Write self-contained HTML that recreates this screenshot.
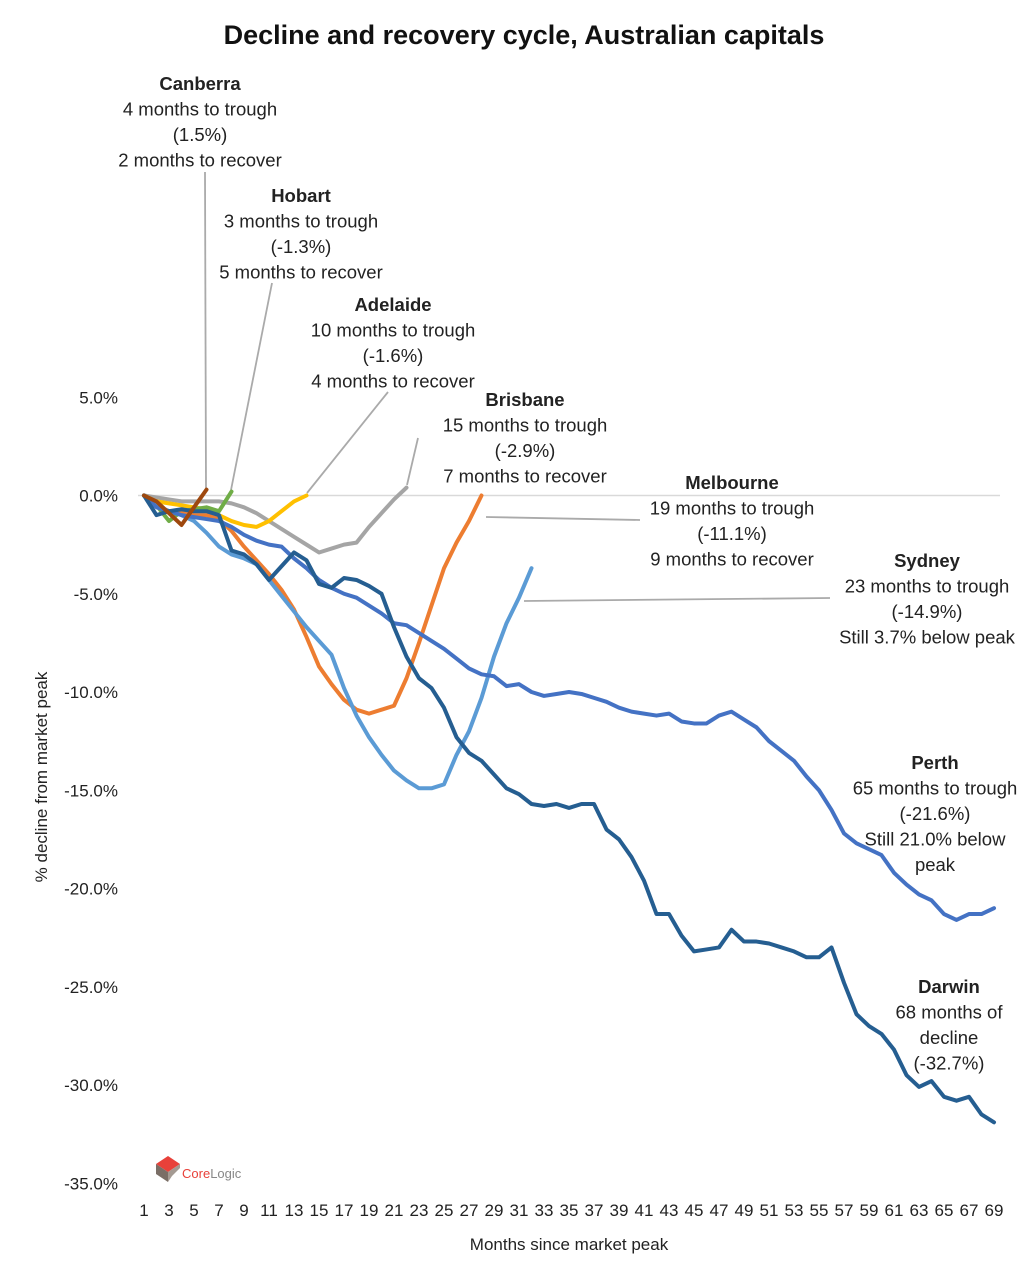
<!DOCTYPE html>
<html><head><meta charset="utf-8"><style>
body{margin:0;background:#fff;}
svg{display:block;font-family:"Liberation Sans",sans-serif;}
.t{font-size:17px;fill:#222;}
.n{font-size:18.5px;fill:#222;}
.b{font-weight:bold;}
</style></head><body>
<svg id="c" width="1031" height="1266">
<text x="524" y="44" text-anchor="middle" font-size="27" font-weight="bold" fill="#111">Decline and recovery cycle, Australian capitals</text>
<g id="grid"></g>
<g id="leaders"></g>
<g id="series"></g>
<g id="axes"></g>
<g id="notes"></g>
<text transform="translate(47,777) rotate(-90)" text-anchor="middle" class="t" font-size="19">% decline from market peak</text>
<text x="569" y="1250" text-anchor="middle" class="t" font-size="19">Months since market peak</text>
<g>
<polygon points="156,1164 168,1156 180,1164 168,1172" fill="#e8413a"/>
<polygon points="156,1164 168,1172 168,1182 156,1174" fill="#7a6e66"/>
<polygon points="168,1172 180,1164 180,1168 172,1176 168,1182" fill="#a49a92"/>
<text x="182" y="1178" font-size="13" fill="#e8413a">Core<tspan fill="#888">Logic</tspan></text>
</g>
</svg>
<script>
const yTicks=[5,0,-5,-10,-15,-20,-25,-30,-35];
const yTickLabels=["5.0%","0.0%","-5.0%","-10.0%","-15.0%","-20.0%","-25.0%","-30.0%","-35.0%"];
const xTicks=[1,3,5,7,9,11,13,15,17,19,21,23,25,27,29,31,33,35,37,39,41,43,45,47,49,51,53,55,57,59,61,63,65,67,69];
const canberra=[0,-0.3,-0.9,-1.5,-0.6,0.3];
const hobart=[0,-0.5,-1.3,-0.8,-0.7,-0.6,-0.8,0.2];
const adelaide=[0,-0.3,-0.4,-0.5,-0.6,-0.7,-1.0,-1.3,-1.5,-1.6,-1.3,-0.8,-0.3,0.0];
const brisbane=[0,-0.1,-0.2,-0.3,-0.3,-0.3,-0.3,-0.4,-0.6,-0.9,-1.3,-1.7,-2.1,-2.5,-2.9,-2.7,-2.5,-2.4,-1.6,-0.9,-0.2,0.4];
const melbourne=[0,-0.5,-0.8,-0.9,-1.0,-1.0,-1.2,-1.8,-2.6,-3.3,-4.0,-4.8,-5.8,-7.2,-8.7,-9.6,-10.4,-10.9,-11.1,-10.9,-10.7,-9.3,-7.5,-5.6,-3.7,-2.4,-1.3,0.0];
const sydney=[0,-0.5,-0.8,-1.0,-1.3,-1.9,-2.6,-3.0,-3.2,-3.5,-4.3,-5.1,-5.9,-6.7,-7.4,-8.1,-9.8,-11.2,-12.3,-13.2,-14.0,-14.5,-14.9,-14.9,-14.7,-13.2,-12.0,-10.3,-8.2,-6.5,-5.2,-3.7];
const perth=[0,-0.6,-0.8,-1.0,-1.1,-1.2,-1.3,-1.6,-2.0,-2.3,-2.5,-2.6,-3.2,-3.7,-4.3,-4.7,-5.0,-5.2,-5.6,-6.0,-6.5,-6.6,-7.0,-7.4,-7.8,-8.3,-8.8,-9.1,-9.2,-9.7,-9.6,-10.0,-10.2,-10.1,-10.0,-10.1,-10.3,-10.5,-10.8,-11.0,-11.1,-11.2,-11.1,-11.5,-11.6,-11.6,-11.2,-11.0,-11.4,-11.8,-12.5,-13.0,-13.5,-14.3,-15.0,-16.0,-17.2,-17.7,-18.0,-18.3,-19.2,-19.8,-20.3,-20.6,-21.3,-21.6,-21.3,-21.3,-21.0];
const darwin=[0,-1.0,-0.8,-0.7,-0.8,-0.8,-1.0,-2.8,-3.0,-3.5,-4.3,-3.6,-2.9,-3.3,-4.5,-4.7,-4.2,-4.3,-4.6,-5.0,-6.7,-8.2,-9.3,-9.8,-10.8,-12.3,-13.1,-13.5,-14.2,-14.9,-15.2,-15.7,-15.8,-15.7,-15.9,-15.7,-15.7,-17.0,-17.5,-18.4,-19.6,-21.3,-21.3,-22.4,-23.2,-23.1,-23.0,-22.1,-22.7,-22.7,-22.8,-23.0,-23.2,-23.5,-23.5,-23.0,-24.8,-26.4,-27.0,-27.4,-28.2,-29.5,-30.1,-29.8,-30.6,-30.8,-30.6,-31.5,-31.9];

const NS="http://www.w3.org/2000/svg";
const X=m=>144+(m-1)*12.5;
const Y=v=>495.5-v*19.65;
function mk(tag,attrs,parent){const e=document.createElementNS(NS,tag);for(const k in attrs)e.setAttribute(k,attrs[k]);parent.appendChild(e);return e;}
const grid=document.getElementById('grid'),axes=document.getElementById('axes'),series=document.getElementById('series'),notes=document.getElementById('notes'),leaders=document.getElementById('leaders');
let zl=mk('line',{x1:138,x2:1000,y1:Y(0),y2:Y(0),stroke:'#d9d9d9','stroke-width':1.5},grid);


yTicks.forEach((v,i)=>{let t=mk('text',{x:118,y:Y(v)+6,'text-anchor':'end',class:'t'},axes);t.textContent=yTickLabels[i];

});
xTicks.forEach(m=>{let t=mk('text',{x:X(m),y:1216,'text-anchor':'middle',class:'t'},axes);t.textContent=m;

});
const S=[["brisbane-line",brisbane,"#a5a5a5"],["adelaide-line",adelaide,"#ffc000"],["hobart-line",hobart,"#70ad47"],["melbourne-line",melbourne,"#ed7d31"],["sydney-line",sydney,"#5b9bd5"],["perth-line",perth,"#4472c4"],["darwin-line",darwin,"#255e91"],["canberra-line",canberra,"#9e480e"]];
S.forEach(([n,d,c])=>{let p=mk('polyline',{points:d.map((v,i)=>X(i+1)+','+Y(v)).join(' '),fill:'none',stroke:c,'stroke-width':4,'stroke-linejoin':'round','stroke-linecap':'round'},series);

});
const L=[[205,172,206,488],[272,283,231,490],[388,392,307,493],[418,438,407,485],[640,520,486,517],[830,598,524,601]];
L.forEach(a=>{let l=mk('line',{x1:a[0],y1:a[1],x2:a[2],y2:a[3],stroke:'#aaa','stroke-width':1.8},leaders);

});
const N=[["canberra-note",200,90,["Canberra","4 months to trough","(1.5%)","2 months to recover"]],
["hobart-note",301,202,["Hobart","3 months to trough","(-1.3%)","5 months to recover"]],
["adelaide-note",393,311,["Adelaide","10 months to trough","(-1.6%)","4 months to recover"]],
["brisbane-note",525,406,["Brisbane","15 months to trough","(-2.9%)","7 months to recover"]],
["melbourne-note",732,489,["Melbourne","19 months to trough","(-11.1%)","9 months to recover"]],
["sydney-note",927,567,["Sydney","23 months to trough","(-14.9%)","Still 3.7% below peak"]],
["perth-note",935,769,["Perth","65 months to trough","(-21.6%)","Still 21.0% below","peak"]],
["darwin-note",949,993,["Darwin","68 months of","decline","(-32.7%)"]]];
N.forEach(([n,x,y,lines])=>{let t=mk('text',{x:x,y:y,'text-anchor':'middle',class:'n'},notes);


lines.forEach((s,i)=>{let ts=mk('tspan',{x:x,dy:i?25.5:0},t);if(!i)ts.setAttribute('class','b');ts.textContent=s;});});
</script>
</body></html>
